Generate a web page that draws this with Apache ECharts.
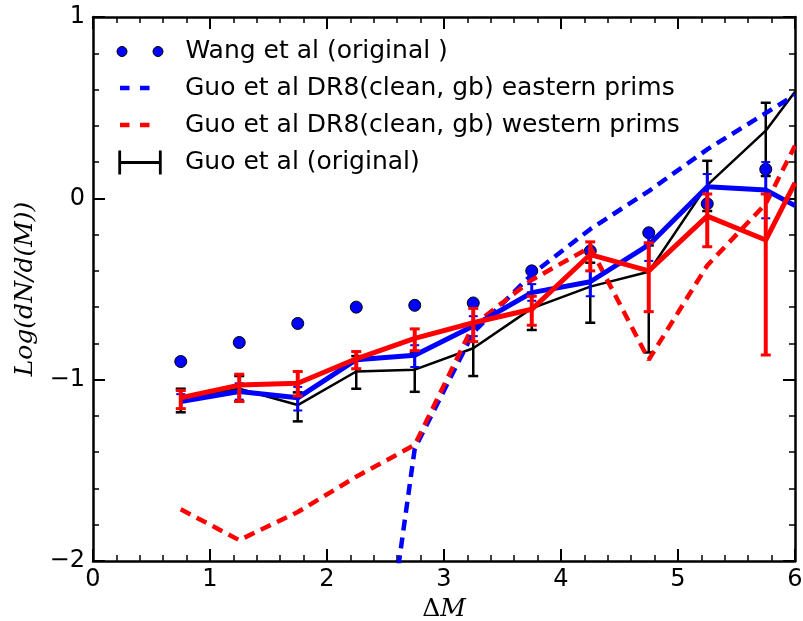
<!DOCTYPE html>
<html>
<head>
<meta charset="utf-8">
<script src="https://cdn.jsdelivr.net/npm/echarts/dist/echarts.min.js"></script>
<style>html,body{margin:0;padding:0;background:#fff}#chart{width:803px;height:621px}</style>
</head>
<body>
<div id="chart"></div>
<script>
// ---- data ----
const xBins      = [0.75, 1.25, 1.75, 2.25, 2.75, 3.25, 3.75, 4.25, 4.75, 5.25, 5.75, 6.0];
const wang       = [-0.90, -0.795, -0.69, -0.60, -0.59, -0.577, -0.40, -0.29, -0.19, -0.03, 0.16, null];
const eastDash   = [null, null, null, -3.7, -1.38, -0.74, -0.42, -0.17, 0.04, 0.27, 0.47, 0.57];
const westDash   = [-1.715, -1.885, -1.73, -1.535, -1.36, -0.70, -0.45, -0.27, -0.89, -0.37, -0.03, 0.29];
const guoOrig    = [-1.11, -1.05, -1.14, -0.955, -0.945, -0.827, -0.607, -0.487, -0.405, 0.073, 0.373, 0.588];
const guoOrigLo  = [-1.18, -1.12, -1.23, -1.05, -1.067, -0.98, -0.726, -0.686, -0.85, -0.07, 0.123, null];
const guoOrigHi  = [-1.05, -0.98, -1.07, -0.87, -0.85, -0.70, -0.52, -0.355, -0.26, 0.207, 0.527, null];
const eastSolid  = [-1.12, -1.065, -1.10, -0.89, -0.865, -0.704, -0.52, -0.46, -0.257, 0.064, 0.046, -0.04];
const eastLo     = [-1.16, -1.11, -1.17, -0.94, -0.93, -0.76, -0.565, -0.54, -0.345, -0.024, -0.11, null];
const eastHi     = [-1.08, -1.02, -1.04, -0.845, -0.81, -0.65, -0.473, -0.40, -0.19, 0.134, 0.20, null];
const westSolid  = [-1.10, -1.03, -1.02, -0.885, -0.772, -0.686, -0.612, -0.31, -0.40, -0.098, -0.23, 0.085];
const westLo     = [-1.16, -1.12, -1.09, -0.94, -0.84, -0.79, -0.70, -0.40, -0.625, -0.267, -0.864, null];
const westHi     = [-1.06, -0.97, -0.955, -0.845, -0.72, -0.607, -0.54, -0.24, -0.245, 0.024, 0.024, null];

const xTicks = [0, 1, 2, 3, 4, 5, 6];
const yTicks = [-2, -1, 0, 1];

const seriesNames = {
  wang: 'Wang et al (original )',
  east: 'Guo et al DR8(clean, gb) eastern prims',
  west: 'Guo et al DR8(clean, gb) western prims',
  guo: 'Guo et al (original)'
};

// ---- helpers ----
function pairs(vals) {
  const out = [];
  xBins.forEach((x, i) => { if (vals[i] !== null) out.push([x, vals[i]]); });
  return out;
}
function errData(lo, hi) {
  const out = [];
  xBins.forEach((x, i) => { if (lo[i] !== null) out.push([x, lo[i], hi[i]]); });
  return out;
}
function errRender(color, w, capHalf, capW) {
  return function (params, api) {
    const x = api.value(0);
    const a = api.coord([x, api.value(1)]);
    const b = api.coord([x, api.value(2)]);
    const st = { stroke: color, lineWidth: w };
    const cs = { stroke: color, lineWidth: capW };
    return {
      type: 'group',
      children: [
        { type: 'line', shape: { x1: a[0], y1: a[1], x2: b[0], y2: b[1] }, style: st },
        { type: 'line', shape: { x1: a[0] - capHalf, y1: a[1], x2: a[0] + capHalf, y2: a[1] }, style: cs },
        { type: 'line', shape: { x1: b[0] - capHalf, y1: b[1], x2: b[0] + capHalf, y2: b[1] }, style: cs }
      ]
    };
  };
}
function circ(cx, cy, r) {
  const k = 0.5523 * r;
  return 'M' + (cx + r) + ',' + cy +
    ' C' + (cx + r) + ',' + (cy + k) + ' ' + (cx + k) + ',' + (cy + r) + ' ' + cx + ',' + (cy + r) +
    ' C' + (cx - k) + ',' + (cy + r) + ' ' + (cx - r) + ',' + (cy + k) + ' ' + (cx - r) + ',' + cy +
    ' C' + (cx - r) + ',' + (cy - k) + ' ' + (cx - k) + ',' + (cy - r) + ' ' + cx + ',' + (cy - r) +
    ' C' + (cx + k) + ',' + (cy - r) + ' ' + (cx + r) + ',' + (cy - k) + ' ' + (cx + r) + ',' + cy + ' Z';
}
const iconDots = 'path://' + circ(5, 5, 5) + ' ' + circ(41, 5, 5);
const iconDash = 'path://M0,0 L9.5,0 L9.5,4.5 L0,4.5 Z M20,0 L29.5,0 L29.5,4.5 L20,4.5 Z';
const iconErr = 'path://M0,0 L2.8,0 L2.8,24 L0,24 Z M40.6,0 L43.4,0 L43.4,24 L40.6,24 Z M0,10.6 L43.4,10.6 L43.4,13.4 L0,13.4 Z';

const minus = v => (v < 0 ? '\u2212' + Math.abs(v) : String(v));
const tickFont = { fontFamily: 'DejaVu Sans', fontSize: 24, color: '#000' };
const legText = pad => ({ fontFamily: 'DejaVu Sans', fontSize: 25, color: '#000', padding: [0, 0, 0, pad] });

function legend(name, icon, left, top, w, h, pad, itemStyle) {
  return {
    data: [{ name: name, icon: icon }],
    left: left, top: top, padding: 0, itemWidth: w, itemHeight: h,
    selectedMode: false, textStyle: legText(pad), itemStyle: itemStyle || { borderWidth: 0 }
  };
}

const axisCommon = {
  type: 'value', min: 0, max: 6, interval: 1,
  axisLine: { show: true, onZero: false, lineStyle: { color: '#000', width: 2.5 } },
  axisTick: { show: true, inside: true, length: 12, lineStyle: { color: '#000', width: 2 } },
  minorTick: { show: true, splitNumber: 5, length: 6, lineStyle: { color: '#000', width: 1.5 } },
  splitLine: { show: false }, minorSplitLine: { show: false }
};
const yCommon = Object.assign({}, axisCommon, { min: -2, max: 1, interval: 1 });

const chart = echarts.init(document.getElementById('chart'), null, { renderer: 'canvas' });
chart.setOption({
  animation: false,
  backgroundColor: '#fff',
  grid: { left: 93, right: 8, top: 17, bottom: 60, containLabel: false, outerBoundsMode: 'none' },
  xAxis: [
    Object.assign({}, axisCommon, {
      position: 'bottom',
      axisLabel: Object.assign({ margin: 7, formatter: minus, showMinLabel: true, showMaxLabel: true }, tickFont),
      name: '{d|\u0394}{m|M}', nameLocation: 'middle', nameGap: 36,
      nameTextStyle: {
        rich: {
          d: { fontFamily: 'DejaVu Serif', fontSize: 25, color: '#000' },
          m: { fontFamily: 'DejaVu Serif', fontStyle: 'italic', fontSize: 25, color: '#000' }
        }
      }
    }),
    Object.assign({}, axisCommon, { position: 'top', axisLabel: { show: false } })
  ],
  yAxis: [
    Object.assign({}, yCommon, {
      position: 'left',
      axisLabel: Object.assign({ margin: 8, formatter: minus, showMinLabel: true, showMaxLabel: true }, tickFont),
      name: 'Log(dN/d(M))', nameLocation: 'middle', nameGap: 55, nameRotate: 90,
      nameTextStyle: { fontFamily: 'DejaVu Serif', fontStyle: 'italic', fontSize: 25, color: '#000' }
    }),
    Object.assign({}, yCommon, { position: 'right', axisLabel: { show: false } })
  ],
  legend: [
    legend(seriesNames.wang, iconDots, 116.5, 39, 46, 10, 17.5, { borderColor: '#000', borderWidth: 1 }),
    legend(seriesNames.east, iconDash, 120, 75.5, 29.5, 4.5, 30.5),
    legend(seriesNames.west, iconDash, 120, 112.5, 29.5, 4.5, 30.5),
    legend(seriesNames.guo, iconErr, 118.3, 150, 43.4, 24, 18.3)
  ],
  series: [
    { name: seriesNames.guo, type: 'custom', z: 1, renderItem: errRender('#000', 2.5, 5, 2.5),
      encode: { x: 0, y: [1, 2] }, data: errData(guoOrigLo, guoOrigHi), itemStyle: { color: '#000' }, clip: true },
    { name: seriesNames.guo, type: 'line', z: 1, data: pairs(guoOrig), showSymbol: false, symbol: 'none',
      itemStyle: { color: '#000' }, lineStyle: { color: '#000', width: 2.5 } },
    { name: seriesNames.wang, type: 'scatter', z: 2, data: pairs(wang), symbol: 'circle', symbolSize: 12,
      itemStyle: { color: '#0000ff', borderColor: '#000', borderWidth: 1, opacity: 1 } },
    { name: seriesNames.east, type: 'line', z: 3, data: pairs(eastDash), showSymbol: false, symbol: 'none', clip: true,
      itemStyle: { color: '#0000ff' }, lineStyle: { color: '#0000ff', width: 4.5, type: [11, 7], cap: 'butt' } },
    { name: seriesNames.west, type: 'line', z: 4, data: pairs(westDash), showSymbol: false, symbol: 'none', clip: true,
      itemStyle: { color: '#ff0000' }, lineStyle: { color: '#ff0000', width: 4.5, type: [11, 7], cap: 'butt' } },
    { name: 'eastern solid', type: 'line', z: 5, data: pairs(eastSolid), showSymbol: false, symbol: 'none',
      itemStyle: { color: '#0000ff' }, lineStyle: { color: '#0000ff', width: 5 } },
    { name: 'eastern solid err', type: 'custom', z: 5, renderItem: errRender('#0000ff', 3, 4.5, 2),
      encode: { x: 0, y: [1, 2] }, data: errData(eastLo, eastHi), itemStyle: { color: '#0000ff' }, clip: true },
    { name: 'western solid', type: 'line', z: 6, data: pairs(westSolid), showSymbol: false, symbol: 'none',
      itemStyle: { color: '#ff0000' }, lineStyle: { color: '#ff0000', width: 5 } },
    { name: 'western solid err', type: 'custom', z: 6, renderItem: errRender('#ff0000', 4, 5, 3),
      encode: { x: 0, y: [1, 2] }, data: errData(westLo, westHi), itemStyle: { color: '#ff0000' }, clip: true }
  ]
});
</script>
</body>
</html>
